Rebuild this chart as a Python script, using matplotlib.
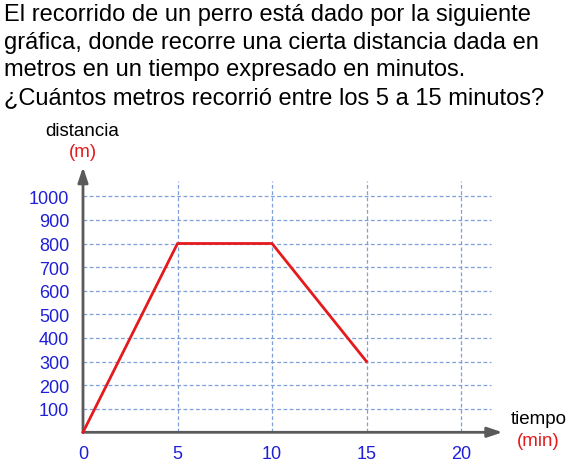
import matplotlib
matplotlib.use("Agg")
import matplotlib.pyplot as plt

plt.rcParams["font.family"] = ["Liberation Sans", "DejaVu Sans"]

# data
tiempo = [0, 5, 10, 15]
distancia = [0, 800, 800, 300]
x_ticks = [0, 5, 10, 15, 20]
y_ticks = [100, 200, 300, 400, 500, 600, 700, 800, 900, 1000]

question = [
    "El recorrido de un perro está dado por la siguiente",
    "gráfica, donde recorre una cierta distancia dada en",
    "metros en un tiempo expresado en minutos.",
    "¿Cuántos metros recorrió entre los 5 a 15 minutos?",
]

W, H = 570, 464
BLUE = "#1f1fd6"
RED = "#e41a1c"
GRID = "#7f9fd8"
AXIS = "#5a5a5a"

fig = plt.figure(figsize=(W / 100, H / 100), dpi=100)

# axes placed in pixel terms: origin at (83, 433), 18.9 px/min, 0.236 px/m
x0, y0 = 83, 433.3
px_x, px_y = 18.9, 0.236
xmax, ymax = 22.2, 1124
ax = fig.add_axes([x0 / W, (H - y0) / H, xmax * px_x / W, ymax * px_y / H])
ax.set_xlim(0, xmax)
ax.set_ylim(0, ymax)
for s in ax.spines.values():
    s.set_visible(False)

# dashed grid
for yv in y_ticks:
    ax.plot([0, 21.6], [yv, yv], ls=(0, (3, 2)), color=GRID, lw=0.9, zorder=1)
for xv in x_ticks[1:]:
    ax.plot([xv, xv], [0, 1066], ls=(0, (3, 2)), color=GRID, lw=0.9, zorder=1)

# axes with arrows
arrow = dict(arrowstyle="-|>,head_length=0.9,head_width=0.3",
             color=AXIS, lw=2, shrinkA=0, shrinkB=0)
ax.annotate("", xy=(xmax, 0), xytext=(0, 0), arrowprops=arrow, annotation_clip=False)
ax.annotate("", xy=(0, ymax), xytext=(0, 0), arrowprops=arrow, annotation_clip=False)

ax.plot(tiempo, distancia, color=RED, lw=2, zorder=3, clip_on=False)

ax.set_xticks(x_ticks)
ax.set_yticks(y_ticks)
ax.tick_params(length=0, labelsize=13, labelcolor=BLUE)
ax.tick_params(axis="x", pad=9)
ax.tick_params(axis="y", pad=10)

# axis titles
fig.text(82 / W, 1 - 131 / H, "distancia", ha="center", va="center", fontsize=13.5)
fig.text(83 / W, 1 - 153 / H, "(m)", ha="center", va="center", fontsize=13.5, color=RED)
fig.text(539 / W, 1 - 420 / H, "tiempo", ha="center", va="center", fontsize=13.5)
fig.text(538 / W, 1 - 441 / H, "(min)", ha="center", va="center", fontsize=13.5, color=RED)

# question text
for i, line in enumerate(question):
    fig.text(4 / W, 1 - (21 + 27.6 * i) / H, line, ha="left", va="baseline",
             fontsize=17, color="black")

fig.savefig("out.png", dpi=100)
